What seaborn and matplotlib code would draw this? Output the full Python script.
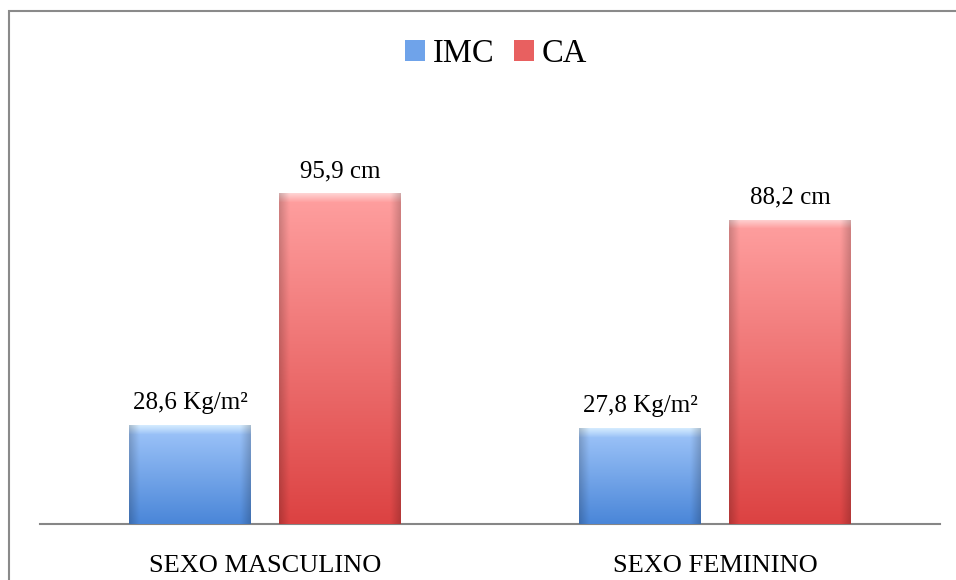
import numpy as np
import pandas as pd
import seaborn as sns
import matplotlib.pyplot as plt
from matplotlib.patches import Rectangle, Patch
from matplotlib.colors import to_rgb

# Data
categories = ["SEXO MASCULINO", "SEXO FEMININO"]
series = ["IMC", "CA"]
imc_values = [28.6, 27.8]
ca_values = [95.9, 88.2]
imc_labels = ["28,6 Kg/m²", "27,8 Kg/m²"]
ca_labels = ["95,9 cm", "88,2 cm"]

df = pd.DataFrame({
    "grupo": categories * 2,
    "serie": ["IMC"] * len(imc_values) + ["CA"] * len(ca_values),
    "valor": imc_values + ca_values,
})

# gradient colours (highlight, top, bottom) for each series
grad = {
    "IMC": ("#dff3ff", "#a0c6fa", "#4a86d8"),
    "CA": ("#ffe0e0", "#ffa0a0", "#dc4242"),
}
palette = {"IMC": "#6fa3ea", "CA": "#e86060"}

sns.set_style("white")
plt.rcParams["font.family"] = ["Liberation Serif", "DejaVu Serif"]
plt.rcParams["text.color"] = "black"
plt.rcParams["xtick.color"] = "black"

fig = plt.figure(figsize=(9.56, 5.8), dpi=100)
ax = fig.add_axes([40 / 956, 56 / 580, 900 / 956, 414 / 580])

sns.barplot(data=df, x="grupo", y="valor", hue="serie", hue_order=series,
            palette=palette, width=0.667, gap=0.19, legend=False, ax=ax)

px_per_unit = 414 / 120


def gradient_image(name, nrows, ncols):
    hi, top, bot = [np.array(to_rgb(c)) for c in grad[name]]
    t = np.linspace(0, 1, nrows)[:, None]
    col = top[None, :] * (1 - t) + bot[None, :] * t
    img = np.repeat(col[:, None, :], ncols, axis=1)
    # top bevel highlight
    bev = min(9, nrows)
    for r in range(bev):
        w = 1 - r / bev
        img[r] = img[r] * (1 - w * 0.8) + hi * w * 0.8
    # darker side edges
    x = np.linspace(0, 1, ncols)
    edge = 1 - 0.18 * (np.clip(1 - x / 0.08, 0, 1) + np.clip(1 - (1 - x) / 0.08, 0, 1))
    img = img * edge[None, :, None]
    return np.clip(img, 0, 1)


for name, container in zip(series, ax.containers):
    for bar in container:
        x0 = bar.get_x()
        w = bar.get_width()
        h = bar.get_height()
        nrows = max(int(h * px_per_unit), 2)
        img = gradient_image(name, nrows, 60)
        im = ax.imshow(img, extent=(x0, x0 + w, 0, h), aspect="auto",
                       origin="upper", zorder=3, interpolation="bilinear")
        im.set_clip_path(bar)
        bar.set_edgecolor("none")

ax.set_xlim(-0.5, 1.5)
ax.set_ylim(0, 120)

ax.bar_label(ax.containers[0], labels=imc_labels, padding=8, fontsize=18)
ax.bar_label(ax.containers[1], labels=ca_labels, padding=8, fontsize=18)

ax.set_xlabel("")
ax.set_ylabel("")
ax.set_yticks([])
ax.tick_params(axis="x", length=0, pad=22, labelsize=19)
for s in ["top", "left", "right"]:
    ax.spines[s].set_visible(False)
ax.spines["bottom"].set_color("#868686")
ax.spines["bottom"].set_linewidth(1.5)

handles = [Patch(facecolor=palette[s], edgecolor="none") for s in series]
fig.legend(handles, series, loc="center", bbox_to_anchor=(496 / 956, 1 - 54 / 580),
           ncol=2, frameon=False, fontsize=23.5, handlelength=0.6, handleheight=0.6,
           columnspacing=0.6, handletextpad=0.25)

# outer chart border
fig.add_artist(Rectangle((9 / 956, -0.1), 1.0, (580 - 11) / 580 + 0.1,
                         transform=fig.transFigure, fill=False,
                         edgecolor="#8a8a8a", linewidth=1.5))

fig.savefig("out.png", dpi=100)
